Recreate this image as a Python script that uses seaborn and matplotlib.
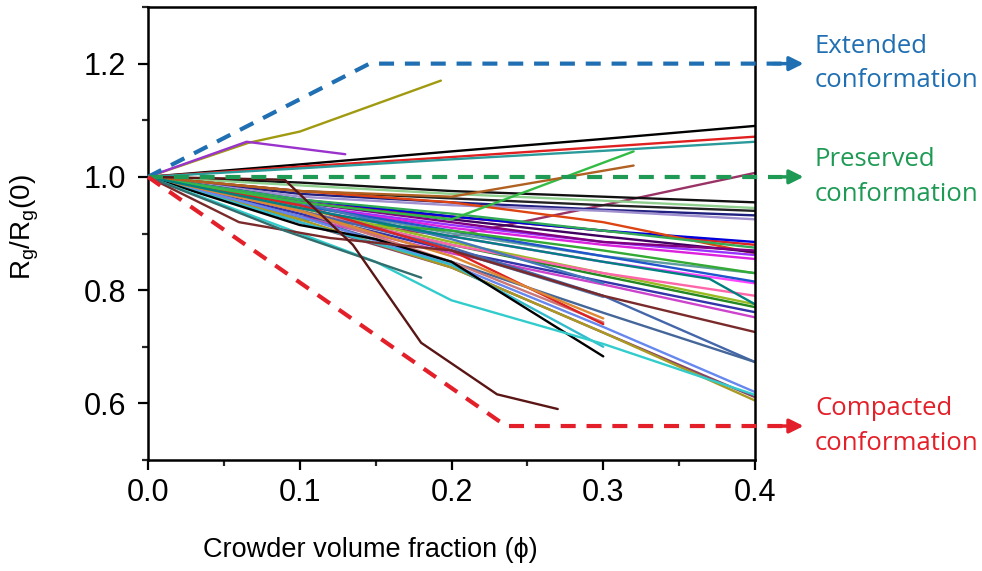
import numpy as np
import pandas as pd
import matplotlib
matplotlib.use("Agg")
import matplotlib.pyplot as plt
import seaborn as sns

# ---------------- data ----------------
phi_full = [0.0, 0.1, 0.2, 0.3, 0.4]
phi_to03 = [0.0, 0.1, 0.2, 0.3]

# series spanning the whole range 0 - 0.4 (values at phi_full)
full_y = [
    [1.0, 1.022, 1.045, 1.067, 1.090],
    [1.0, 1.018, 1.035, 1.053, 1.071],
    [1.0, 1.015, 1.031, 1.046, 1.062],
    [1.0, 0.930, 0.895, 0.950, 1.007],
    [1.0, 0.990, 0.975, 0.965, 0.955],
    [1.0, 0.985, 0.970, 0.958, 0.945],
    [1.0, 0.975, 0.962, 0.950, 0.940],
    [1.0, 0.970, 0.955, 0.942, 0.932],
    [1.0, 0.965, 0.950, 0.940, 0.925],
    [1.0, 0.955, 0.930, 0.905, 0.880],
    [1.0, 0.960, 0.930, 0.905, 0.885],
    [1.0, 0.975, 0.955, 0.920, 0.865],
    [1.0, 0.955, 0.925, 0.895, 0.867],
    [1.0, 0.950, 0.915, 0.885, 0.862],
    [1.0, 0.950, 0.910, 0.880, 0.855],
    [1.0, 0.955, 0.920, 0.885, 0.870],
    [1.0, 0.960, 0.935, 0.905, 0.875],
    [1.0, 0.950, 0.900, 0.860, 0.830],
    [1.0, 0.945, 0.895, 0.850, 0.812],
    [1.0, 0.950, 0.905, 0.860, 0.815],
    [1.0, 0.925, 0.905, 0.870, 0.830],
    [1.0, 0.940, 0.880, 0.825, 0.770],
    [1.0, 0.945, 0.885, 0.830, 0.775],
    [1.0, 0.940, 0.880, 0.830, 0.790],
    [1.0, 0.935, 0.870, 0.815, 0.761],
    [1.0, 0.930, 0.865, 0.810, 0.752],
    [1.0, 0.940, 0.875, 0.790, 0.673],
    [1.0, 0.930, 0.850, 0.760, 0.673],
    [1.0, 0.920, 0.840, 0.725, 0.611],
    [1.0, 0.925, 0.840, 0.725, 0.605],
    [1.0, 0.930, 0.845, 0.735, 0.620],
]
full_colors = [
    "#000000", "#e02020", "#2a9a9a", "#993366", "#111111", "#8fd08f",
    "#222222", "#202080", "#a090d0", "#dd2222", "#0000dd", "#dd4411",
    "#400060", "#9933ff", "#dd22dd", "#800080", "#33aa55", "#5f9ea0",
    "#ff44ff", "#2255cc", "#33aa33", "#228822", "#99bb22", "#ff66aa",
    "#3333aa", "#cc44cc", "#4466aa", "#446699", "#884466", "#aa9922",
    "#6688ee",
]

# series ending at phi = 0.3 (values at phi_to03)
short_y = [
    [1.0, 0.920, 0.845, 0.700],
    [1.0, 0.950, 0.870, 0.788],
    [1.0, 0.940, 0.850, 0.743],
    [1.0, 0.955, 0.890, 0.812],
    [1.0, 0.950, 0.870, 0.740],
    [1.0, 0.940, 0.860, 0.750],
]
short_colors = ["#33bbcc", "#5577aa", "#cc7777", "#4477bb", "#dd2222", "#dd8833"]

# irregular series
rise_olive_phi = [0.0, 0.066, 0.10, 0.193]
rise_olive_y = [1.0, 1.060, 1.080, 1.170]
rise_violet_phi = [0.0, 0.065, 0.13]
rise_violet_y = [1.0, 1.062, 1.040]
green_hook_phi = [0.0, 0.1, 0.2, 0.32]
green_hook_y = [1.0, 0.955, 0.925, 1.045]
brown_hook_phi = [0.0, 0.1, 0.2, 0.32]
brown_hook_y = [1.0, 0.975, 0.965, 1.020]
black_bend_phi = [0.0, 0.1, 0.15, 0.2, 0.3]
black_bend_y = [1.0, 0.915, 0.890, 0.850, 0.683]
cyan_long_phi = [0.0, 0.1, 0.15, 0.2, 0.3, 0.4]
cyan_long_y = [1.0, 0.900, 0.850, 0.782, 0.705, 0.615]
teal_knee_phi = [0.0, 0.1, 0.2, 0.3, 0.37, 0.4]
teal_knee_y = [1.0, 0.945, 0.895, 0.850, 0.820, 0.775]
maroon_phi = [0.0, 0.06, 0.12, 0.2, 0.3, 0.4]
maroon_y = [1.0, 0.920, 0.892, 0.870, 0.790, 0.726]
teal_short_phi = [0.0, 0.09, 0.18]
teal_short_y = [1.0, 0.905, 0.822]
steep_phi = [0.0, 0.09, 0.135, 0.18, 0.23, 0.27]
steep_y = [1.0, 0.995, 0.880, 0.707, 0.616, 0.590]

irregular = [
    (rise_olive_phi, rise_olive_y, "#a09a10"),
    (rise_violet_phi, rise_violet_y, "#9933cc"),
    (green_hook_phi, green_hook_y, "#33bb44"),
    (brown_hook_phi, brown_hook_y, "#b06020"),
    (black_bend_phi, black_bend_y, "#000000"),
    (cyan_long_phi, cyan_long_y, "#33cccc"),
    (teal_knee_phi, teal_knee_y, "#008080"),
    (maroon_phi, maroon_y, "#7a2a2a"),
    (teal_short_phi, teal_short_y, "#336e6e"),
    (steep_phi, steep_y, "#5a1515"),
]

# guide lines (dashed)
ext_phi = [0.0, 0.146, 0.418]
ext_y = [1.0, 1.2, 1.2]
pres_phi = [0.0, 0.418]
pres_y = [1.0, 1.0]
comp_phi = [0.0, 0.236, 0.418]
comp_y = [1.0, 0.56, 0.56]
guide_labels = ["Extended\nconformation", "Preserved\nconformation", "Compacted\nconformation"]
guide_colors = ["#1f6fb2", "#1e9a55", "#e3202a"]

x_ticks = [0.0, 0.1, 0.2, 0.3, 0.4]
y_ticks = [0.6, 0.8, 1.0, 1.2]

# ---------------- build long table ----------------
rows = []
palette = {}
sid = 0
for ys, c in zip(full_y, full_colors):
    for p, v in zip(phi_full, ys):
        rows.append((sid, p, v))
    palette[sid] = c
    sid += 1
for ys, c in zip(short_y, short_colors):
    for p, v in zip(phi_to03, ys):
        rows.append((sid, p, v))
    palette[sid] = c
    sid += 1
for ps, ys, c in irregular:
    for p, v in zip(ps, ys):
        rows.append((sid, p, v))
    palette[sid] = c
    sid += 1
df = pd.DataFrame(rows, columns=["series", "phi", "ratio"])

# ---------------- plot ----------------
sns.set_theme(style="ticks")
plt.rcParams["font.family"] = ["Liberation Sans", "DejaVu Sans"]
plt.rcParams["mathtext.fontset"] = "custom"
plt.rcParams["mathtext.rm"] = "Liberation Sans"
plt.rcParams["mathtext.it"] = "Liberation Sans:italic"
plt.rcParams["text.color"] = "black"
plt.rcParams["axes.labelcolor"] = "black"

fig = plt.figure(figsize=(9.82, 5.71), dpi=100)
ax = fig.add_axes([148 / 982, 1 - 460 / 571, (755 - 148) / 982, (460 - 7) / 571])

sns.lineplot(data=df, x="phi", y="ratio", hue="series", palette=palette,
             units="series", estimator=None, sort=False, legend=False,
             linewidth=1.7, ax=ax)

for (gx, gy), col in zip([(ext_phi, ext_y), (pres_phi, pres_y), (comp_phi, comp_y)], guide_colors):
    ax.plot(gx, gy, color=col, lw=3, dashes=(3.6, 2.6), clip_on=False, zorder=5)
    ax.annotate("", xy=(0.432, gy[-1]), xytext=(0.412, gy[-1]),
                xycoords="data", annotation_clip=False,
                arrowprops=dict(arrowstyle="-|>,head_length=0.7,head_width=0.35",
                                color=col, lw=2.5, shrinkA=0, shrinkB=0))

for lab, col, gy in zip(guide_labels, guide_colors, [ext_y[-1], pres_y[-1], comp_y[-1]]):
    ax.text(0.4395, gy, lab, color=col, fontsize=18.5, family=["Open Sans", "DejaVu Sans"],
            va="center", ha="left", linespacing=1.5, clip_on=False)

ax.set_xlim(0.0, 0.4)
ax.set_ylim(0.5, 1.3)
ax.set_xticks(x_ticks)
ax.set_xticklabels([f"{t:.1f}" for t in x_ticks])
ax.set_yticks(y_ticks)
ax.set_yticklabels([f"{t:.1f}" for t in y_ticks])
ax.set_xticks(np.arange(0.05, 0.4, 0.1), minor=True)
ax.set_yticks([0.5, 0.7, 0.9, 1.1, 1.3], minor=True)
ax.tick_params(axis="both", which="major", direction="out", length=7, width=1.6,
               labelsize=22, colors="black")
ax.tick_params(axis="x", which="major", pad=6)
ax.tick_params(axis="y", which="major", pad=9)
ax.tick_params(axis="both", which="minor", direction="out", length=4.5, width=1.6)
for s in ax.spines.values():
    s.set_linewidth(1.8)
    s.set_color("black")

ax.set_xlabel("Crowder volume fraction (\u03d5)", fontsize=19.5)
ax.set_ylabel(r"$\mathrm{R_g/R_g(0)}$", fontsize=20)
ax.xaxis.set_label_coords(0.367, -0.199)
ax.yaxis.set_label_coords(-0.203, 0.514)
ax.xaxis.label.set_verticalalignment("center")
ax.yaxis.label.set_verticalalignment("center")

fig.savefig("out.png", dpi=100)
